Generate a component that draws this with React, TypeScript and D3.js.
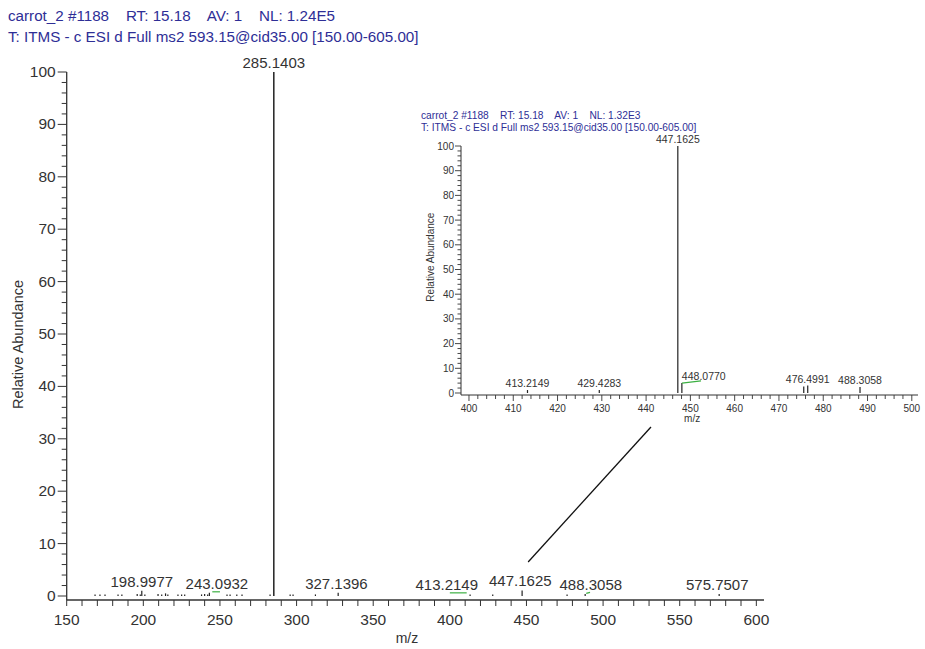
import React from "react";
import * as d3 from "d3";

// main spectrum: [m/z, relative abundance %]
const mainPeaks: [number, number][] = [
  [168.5, 0.3], [171.7, 0.3], [175.0, 0.3], [183.5, 0.3], [186.0, 0.3],
  [196.0, 0.4], [198.0, 0.3], [198.9977, 1.0], [201.0, 0.3], [209.6, 0.4],
  [212.0, 0.3], [214.5, 0.5], [216.0, 0.3], [222.6, 0.3], [225.0, 0.3],
  [227.0, 0.3], [238.0, 0.3], [240.0, 0.4], [242.0, 0.3], [243.0932, 0.6],
  [254.6, 0.3], [256.6, 0.3], [261.0, 0.3], [264.4, 0.3], [282.7, 0.3],
  [285.1403, 100], [295.8, 0.3], [297.7, 0.3], [312.3, 0.3], [327.1396, 0.6],
  [413.2149, 0.3], [428.0, 0.3], [447.1625, 1.06], [476.5, 0.3],
  [488.3058, 0.4], [575.7507, 0.4],
];
// labelled peaks: [m/z, abundance, label centre m/z]
const mainLabels: [number, number, number][] = [
  [198.9977, 1.0, 199], [243.0932, 0.6, 248], [285.1403, 100, 285.14],
  [327.1396, 0.6, 326], [413.2149, 0.3, 398], [447.1625, 1.06, 446],
  [488.3058, 0.4, 492], [575.7507, 0.4, 574.5],
];
const mainLeaders: [number, number, number, number][] = [
  [245, 0.8, 250, 0.8], [400, 0.6, 411, 0.6], [489, 0.5, 491.5, 0.7],
];

const insetPeaks: [number, number][] = [
  [413.2149, 1.2], [429.4283, 1.2], [447.1625, 100], [448.077, 4.0],
  [475.6, 2.6], [476.4991, 3.0], [488.3058, 2.4],
];
const insetLabels: [number, number, string][] = [
  [413.2149, 1.2, "middle"], [429.4283, 1.2, "middle"], [447.1625, 100, "middle"],
  [448.077, 4.0, "start"], [476.4991, 3.0, "middle"], [488.3058, 2.4, "middle"],
];
const insetLeaders: [number, number, number, number][] = [[448.1, 4.0, 452.4, 4.9]];

const mainXTicks = [150, 200, 250, 300, 350, 400, 450, 500, 550, 600];
const yTicks = [0, 10, 20, 30, 40, 50, 60, 70, 80, 90, 100];
const insetXTicks = [400, 410, 420, 430, 440, 450, 460, 470, 480, 490, 500];

const headerMain = ["carrot_2 #1188    RT: 15.18    AV: 1    NL: 1.24E5", "T: ITMS - c ESI d Full ms2 593.15@cid35.00 [150.00-605.00]"];
const headerInset = ["carrot_2 #1188    RT: 15.18    AV: 1    NL: 1.32E3", "T: ITMS - c ESI d Full ms2 593.15@cid35.00 [150.00-605.00]"];

const FONT = "Arial, 'Liberation Sans', sans-serif";
const BLUE = "#2e2e96";
const INK = "#333";

export default function App() {
  const W = 925, H = 649;
  const x = d3.scaleLinear().domain([150, 605]).range([66.7, 764]);
  const y = d3.scaleLinear().domain([0, 100]).range([596, 72]);
  const axisY = 600;

  const ix = d3.scaleLinear().domain([398.2, 501.4]).range([461, 918]);
  const iy = d3.scaleLinear().domain([0, 100]).range([393, 146]);
  const iAxisY = 395;

  const minorMain = d3.range(150, 606, 10);
  const minorY = d3.range(0, 101, 2);
  const minorInset = d3.range(400, 501, 2);

  return (
    <svg width={W} height={H} style={{ position: "absolute", left: 0, top: 0, background: "#fff" }} fontFamily={FONT}>
      {headerMain.map((t, i) => (
        <text key={t} x={8} y={21 + i * 21} fontSize={15.2} fill={BLUE} style={{ whiteSpace: "pre" }}>{t}</text>
      ))}

      {/* main y axis */}
      <line x1={x(150)} x2={x(150)} y1={y(100)} y2={axisY} stroke={INK} strokeWidth={1.3} />
      {minorY.map(v => (
        <line key={v} x1={x(150) - (v % 10 === 0 ? 9 : 5)} x2={x(150)} y1={y(v)} y2={y(v)} stroke={INK} strokeWidth={1} />
      ))}
      {yTicks.map(v => (
        <text key={v} x={x(150) - 11} y={y(v) + 5} textAnchor="end" fontSize={15.5} fill={INK}>{v}</text>
      ))}
      <text transform={`translate(23,${y(48)}) rotate(-90)`} textAnchor="middle" fontSize={14.5} fill={INK}>Relative Abundance</text>

      {/* main x axis */}
      <line x1={x(150)} x2={x(605)} y1={axisY} y2={axisY} stroke={INK} strokeWidth={1.3} />
      {minorMain.map(v => (
        <line key={v} x1={x(v)} x2={x(v)} y1={axisY} y2={axisY + 6} stroke={INK} strokeWidth={1} />
      ))}
      {mainXTicks.map(v => (
        <text key={v} x={x(v)} y={axisY + 25} textAnchor="middle" fontSize={15.5} fill={INK}>{v}</text>
      ))}
      <text x={x(372)} y={643} textAnchor="middle" fontSize={14} fill={INK}>m/z</text>

      {/* main peaks */}
      {mainPeaks.map(([m, v]) => (
        <line key={m} x1={x(m)} x2={x(m)} y1={y(0)} y2={y(v)} stroke="#222" strokeWidth={v > 50 ? 1.5 : 1.2} />
      ))}
      {mainLeaders.map(([m1, v1, m2, v2], i) => (
        <line key={i} x1={x(m1)} x2={x(m2)} y1={y(v1)} y2={y(v2)} stroke="#3cb043" strokeWidth={1.2} />
      ))}
      {mainLabels.map(([m, v, at]) => (
        <text key={m} x={x(at)} y={y(v) - 4} textAnchor="middle" fontSize={15} fill={INK}>{m.toFixed(4)}</text>
      ))}

      {/* pointer to inset */}
      <line x1={x(451.1)} y1={y(6.5)} x2={ix(441.1)} y2={iAxisY + 32} stroke="#111" strokeWidth={1.3} />

      {/* inset */}
      {headerInset.map((t, i) => (
        <text key={t} x={421} y={119 + i * 11.5} fontSize={10.2} fill={BLUE} style={{ whiteSpace: "pre" }}>{t}</text>
      ))}
      <line x1={ix(398.2)} x2={ix(398.2)} y1={iy(100)} y2={iAxisY} stroke={INK} strokeWidth={1} />
      {minorY.map(v => (
        <line key={v} x1={ix(398.2) - (v % 10 === 0 ? 6 : 3.5)} x2={ix(398.2)} y1={iy(v)} y2={iy(v)} stroke={INK} strokeWidth={0.9} />
      ))}
      {yTicks.map(v => (
        <text key={v} x={ix(398.2) - 7} y={iy(v) + 3.5} textAnchor="end" fontSize={10} fill={INK}>{v}</text>
      ))}
      <text transform={`translate(434,${iy(55)}) rotate(-90)`} textAnchor="middle" fontSize={10} fill={INK}>Relative Abundance</text>

      <line x1={ix(398.2)} x2={ix(501.4)} y1={iAxisY} y2={iAxisY} stroke={INK} strokeWidth={1} />
      {minorInset.map(v => (
        <line key={v} x1={ix(v)} x2={ix(v)} y1={iAxisY} y2={iAxisY + (v % 10 === 0 ? 6 : 4)} stroke={INK} strokeWidth={0.9} />
      ))}
      {insetXTicks.map(v => (
        <text key={v} x={ix(v)} y={iAxisY + 17} textAnchor="middle" fontSize={10} fill={INK}>{v}</text>
      ))}
      <text x={ix(450.4)} y={422} textAnchor="middle" fontSize={10} fill={INK}>m/z</text>

      {insetPeaks.map(([m, v]) => (
        <line key={m} x1={ix(m)} x2={ix(m)} y1={iy(0)} y2={iy(v)} stroke="#222" strokeWidth={1.2} />
      ))}
      {insetLeaders.map(([m1, v1, m2, v2], i) => (
        <line key={i} x1={ix(m1)} x2={ix(m2)} y1={iy(v1)} y2={iy(v2)} stroke="#3cb043" strokeWidth={1.2} />
      ))}
      {insetLabels.map(([m, v, anchor]) => (
        <text key={m} x={ix(m)} y={iy(v) - 3} textAnchor={anchor} fontSize={10.5} fill={INK}>{m.toFixed(4)}</text>
      ))}
    </svg>
  );
}
